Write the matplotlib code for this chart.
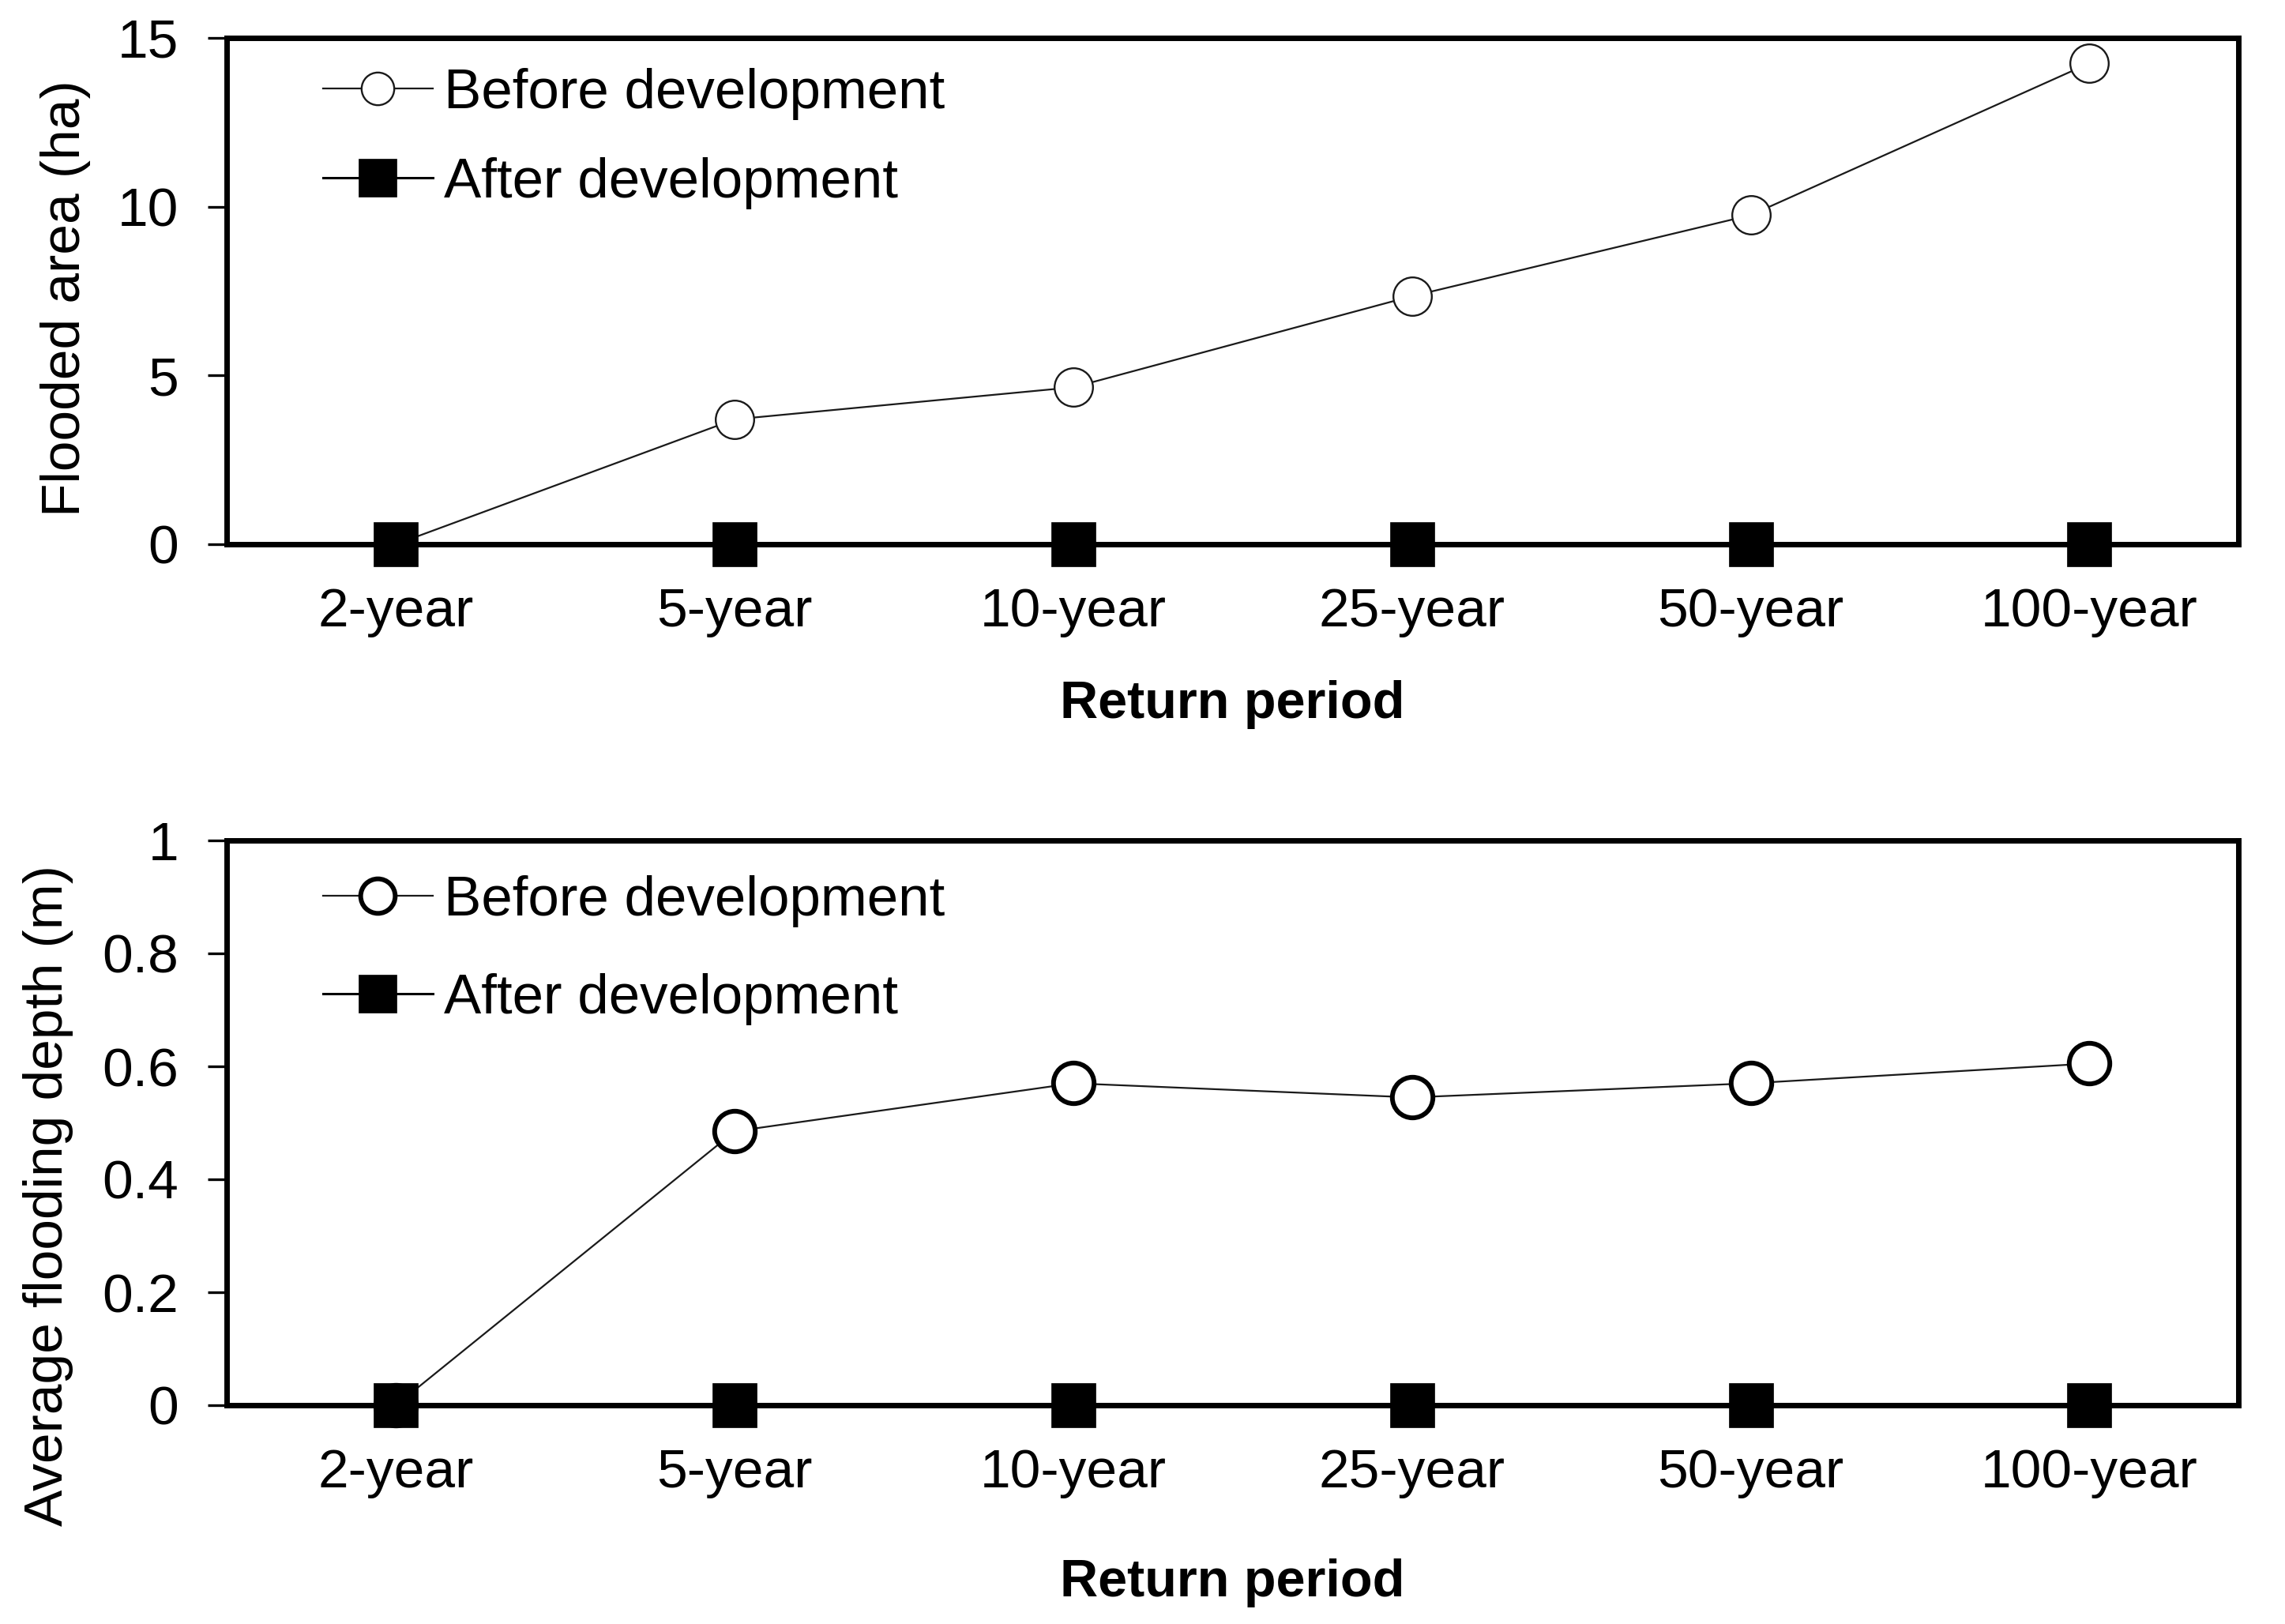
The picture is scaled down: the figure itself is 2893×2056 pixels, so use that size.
import matplotlib
matplotlib.use("Agg")
import matplotlib.pyplot as plt
from matplotlib.ticker import FixedLocator, FuncFormatter

plt.rcParams['font.family'] = ['Liberation Sans', 'DejaVu Sans']

# ---- data ----
return_periods = ["2-year", "5-year", "10-year", "25-year", "50-year", "100-year"]
area_before = [0, 3.70, 4.65, 7.35, 9.75, 14.25]
area_after = [0, 0, 0, 0, 0, 0]
depth_before = [0, 0.485, 0.570, 0.545, 0.570, 0.605]
depth_after = [0, 0, 0, 0, 0, 0]
area_ticks = [0, 5, 10, 15]
depth_ticks = [0, 0.2, 0.4, 0.6, 0.8, 1.0]
series_labels = ["Before development", "After development"]
xlabel = "Return period"
ylabel_top = "Flooded area (ha)"
ylabel_bottom = "Average flooding depth (m)"

W, H = 2893, 2056
DPI = 100
fig = plt.figure(figsize=(W / DPI, H / DPI), dpi=DPI)


def fx(px):
    return px / W


def fy(py):
    return 1 - py / H


FS = 50
L, R = 287, 2834
ax1 = fig.add_axes([fx(L), fy(689), fx(R - L), (689 - 48) / H])
ax2 = fig.add_axes([fx(L), fy(1779), fx(R - L), (1779 - 1064) / H])

x = list(range(len(return_periods)))


def style(ax, ticks, fmt):
    ax.set_xlim(-0.5, 5.44)
    ax.set_ylim(ticks[0], ticks[-1])
    ax.yaxis.set_major_locator(FixedLocator(ticks))
    ax.yaxis.set_major_formatter(FuncFormatter(fmt))
    ax.set_xticks(x)
    ax.set_xticklabels(return_periods)
    for s in ax.spines.values():
        s.set_linewidth(5)
        s.set_color("black")
    ax.tick_params(axis='y', direction='out', length=17, width=2.4, pad=27,
                   labelsize=FS, colors='black')
    ax.tick_params(axis='x', length=0, pad=39, labelsize=FS, colors='black')


def fmt_val(v, pos):
    return f"{v:g}"


# top panel
ax1.plot(x, area_before, color='#1a1a1a', lw=1.6, marker='o', ms=35,
         mfc='white', mec='#1a1a1a', mew=1.7, clip_on=False, zorder=4,
         label=series_labels[0])
ax1.plot(x, area_after, color='black', lw=2.2, marker='s', ms=41,
         mfc='black', mec='black', mew=0.5, clip_on=False, zorder=5,
         label=series_labels[1])
style(ax1, area_ticks, fmt_val)

# bottom panel
ax2.plot(x, depth_before, color='#1a1a1a', lw=1.6, marker='o', ms=37,
         mfc='white', mec='black', mew=4.3, clip_on=False, zorder=4,
         label=series_labels[0])
ax2.plot(x, depth_after, color='black', lw=2.2, marker='s', ms=41,
         mfc='black', mec='black', mew=0.5, clip_on=False, zorder=5,
         label=series_labels[1])
style(ax2, depth_ticks, fmt_val)

# legends
LFS = 51
leg1 = ax1.legend(loc='upper left', bbox_to_anchor=(fx(409), fy(86)),
                  bbox_transform=fig.transFigure, frameon=False, fontsize=LFS,
                  handlelength=1.96, handletextpad=0.2, labelspacing=0.66,
                  borderpad=0, borderaxespad=0, markerscale=0.85)
leg2 = ax2.legend(loc='upper left', bbox_to_anchor=(fx(409), fy(1108)),
                  bbox_transform=fig.transFigure, frameon=False, fontsize=LFS,
                  handlelength=1.96, handletextpad=0.2, labelspacing=0.82,
                  borderpad=0, borderaxespad=0, markerscale=0.85)

# axis labels
fig.text(fx(83), fy(378), ylabel_top, rotation=90, ha='center', va='center',
         fontsize=FS, color='black')
fig.text(fx(61), fy(1514), ylabel_bottom, rotation=90, ha='center', va='center',
         fontsize=FS, color='black')
fig.text(fx(1560), fy(892), xlabel, ha='center', va='center', fontsize=48,
         fontweight='bold', color='black')
fig.text(fx(1560), fy(2004), xlabel, ha='center', va='center', fontsize=48,
         fontweight='bold', color='black')

fig.savefig("out.png", dpi=DPI, facecolor='white')
